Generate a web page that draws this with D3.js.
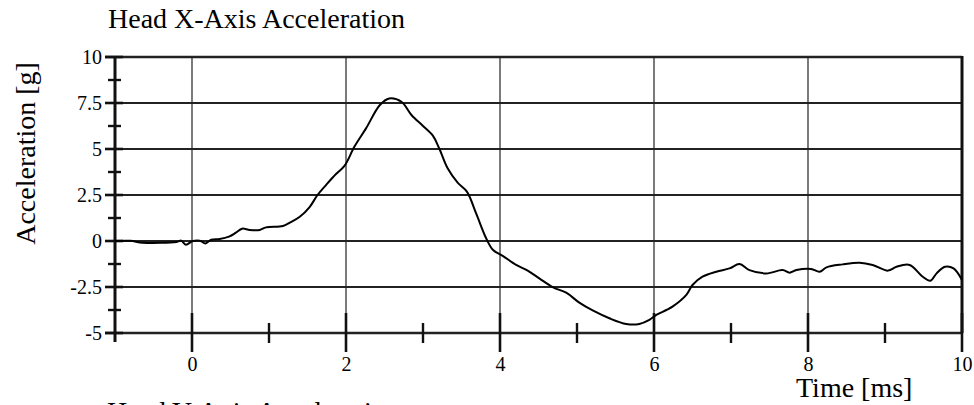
<!DOCTYPE html>
<html><head><meta charset="utf-8">
<script src="https://cdn.jsdelivr.net/npm/d3@7"></script>
<style>
html,body{margin:0;padding:0;background:#fff;}
svg{display:block;}
text{font-family:"Liberation Serif","Times New Roman",serif;fill:#000;}
</style></head>
<body>
<svg id="c" width="974" height="405"></svg>
<script>
const timeMs = [-1.0,-0.8,-0.64,-0.2,-0.14,-0.08,0.01,0.1,0.175,0.25,0.36,0.48,0.57,0.65,0.75,0.88,0.96,1.18,1.27,1.40,1.53,1.63,1.74,1.87,1.98,2.11,2.26,2.44,2.56,2.72,2.85,3.0,3.13,3.21,3.32,3.45,3.57,3.69,3.82,3.91,4.04,4.21,4.36,4.51,4.69,4.86,5.03,5.21,5.42,5.64,5.81,5.94,6.03,6.16,6.24,6.42,6.50,6.63,6.81,6.98,7.11,7.24,7.46,7.67,7.76,7.85,8.04,8.15,8.24,8.45,8.67,8.84,9.04,9.15,9.32,9.49,9.59,9.67,9.78,9.89,10.0];
const accelG = [0,0.01,-0.09,-0.05,0.02,-0.2,0,0.02,-0.13,0.07,0.11,0.24,0.45,0.67,0.6,0.6,0.74,0.82,1.0,1.32,1.86,2.5,3.04,3.64,4.08,5.13,6.12,7.39,7.75,7.57,6.85,6.25,5.71,5.04,3.95,3.17,2.68,1.5,0.15,-0.49,-0.82,-1.3,-1.61,-2.03,-2.52,-2.81,-3.35,-3.79,-4.2,-4.51,-4.51,-4.29,-4.02,-3.75,-3.57,-2.93,-2.39,-1.94,-1.67,-1.49,-1.25,-1.58,-1.76,-1.58,-1.72,-1.58,-1.52,-1.67,-1.43,-1.27,-1.18,-1.30,-1.61,-1.40,-1.30,-1.94,-2.16,-1.76,-1.40,-1.49,-2.12];
const yTicks = [-5,-2.5,0,2.5,5,7.5,10];
const yTickLabels = ["-5","-2.5","0","2.5","5","7.5","10"];
const yMinorTicks = [-3.75,-1.25,1.25,3.75,6.25,8.75];
const xMajorTicks = [0,2,4,6,8,10];
const xMinorTicks = [1,3,5,7,9];
const xGrid = [0,2,4,6,8];
const title = "Head X-Axis Acceleration";
const nextTitle = "Head Y-Axis Acceleration";
const yTitle = "Acceleration [g]";
const xTitle = "Time [ms]";

const svg = d3.select("#c");
const x = d3.scaleLinear().domain([-1,10]).range([115,962]);
const y = d3.scaleLinear().domain([-5,10]).range([333,57]);
const ink = "#111", grid = "#222";

// horizontal grid lines (extend a little left of the axis)
svg.append("g").selectAll("line").data(yTicks).join("line")
  .attr("x1", x(-1)-10).attr("x2", x(10))
  .attr("y1", d=>y(d)).attr("y2", d=>y(d))
  .attr("stroke", grid).attr("stroke-width", d => (d===10||d===-5)?2.6:1.8);

// vertical grid lines
svg.append("g").selectAll("line").data(xGrid).join("line")
  .attr("x1", d=>x(d)).attr("x2", d=>x(d))
  .attr("y1", y(10)).attr("y2", y(-5))
  .attr("stroke", grid).attr("stroke-width", 1.2);

// left axis via d3.axisLeft (labels)
const yAxis = d3.axisLeft(y).tickValues(yTicks).tickFormat((d,i)=>yTickLabels[i]).tickSize(0).tickPadding(13);
const gy = svg.append("g").attr("transform", `translate(${x(-1)},0)`).call(yAxis);
gy.select(".domain").remove();
gy.selectAll("text").attr("font-size", 20).attr("font-family", "Liberation Serif").attr("fill", "#000");
// major tick marks across axis
svg.append("g").selectAll("line").data(yTicks).join("line")
  .attr("x1", x(-1)-10).attr("x2", x(-1)+8)
  .attr("y1", d=>y(d)).attr("y2", d=>y(d))
  .attr("stroke", ink).attr("stroke-width", 2.6);
// minor ticks
svg.append("g").selectAll("line").data(yMinorTicks).join("line")
  .attr("x1", x(-1)-7).attr("x2", x(-1)+6)
  .attr("y1", d=>y(d)).attr("y2", d=>y(d))
  .attr("stroke", ink).attr("stroke-width", 2.4);
// axis line
svg.append("line").attr("x1", x(-1)).attr("x2", x(-1)).attr("y1", y(10)).attr("y2", y(-5)+9)
  .attr("stroke", ink).attr("stroke-width", 3);
// right border
svg.append("line").attr("x1", x(10)).attr("x2", x(10)).attr("y1", y(10)-1).attr("y2", y(-5))
  .attr("stroke", ink).attr("stroke-width", 3);

// bottom axis ticks
svg.append("g").selectAll("line").data(xMajorTicks).join("line")
  .attr("x1", d=>x(d)).attr("x2", d=>x(d))
  .attr("y1", y(-5)-20).attr("y2", y(-5)+19)
  .attr("stroke", ink).attr("stroke-width", 2.6);
svg.append("g").selectAll("line").data(xMinorTicks).join("line")
  .attr("x1", d=>x(d)).attr("x2", d=>x(d))
  .attr("y1", y(-5)-10).attr("y2", y(-5)+10)
  .attr("stroke", ink).attr("stroke-width", 2.4);
const xAxis = d3.axisBottom(x).tickValues(xMajorTicks).tickFormat(d3.format("d")).tickSize(0).tickPadding(24);
const gx = svg.append("g").attr("transform", `translate(0,${y(-5)})`).call(xAxis);
gx.select(".domain").remove();
gx.selectAll("text").attr("font-size", 20).attr("font-family", "Liberation Serif").attr("fill", "#000");

// data curve
const line = d3.line().x((d,i)=>x(timeMs[i])).y(d=>y(d)).curve(d3.curveCatmullRom.alpha(0.5));
svg.append("path").datum(accelG).attr("d", line)
  .attr("fill","none").attr("stroke","#000").attr("stroke-width",2).attr("stroke-linejoin","round");

// titles
svg.append("text").attr("x",108).attr("y",28).attr("font-size",28).text(title);
svg.append("text").attr("x",107).attr("y",421).attr("font-size",28).text(nextTitle);
svg.append("text").attr("transform","translate(35,153.5) rotate(-90)").attr("text-anchor","middle").attr("font-size",28).text(yTitle);
svg.append("text").attr("x",796).attr("y",397).attr("font-size",28).text(xTitle);
</script>
</body></html>
